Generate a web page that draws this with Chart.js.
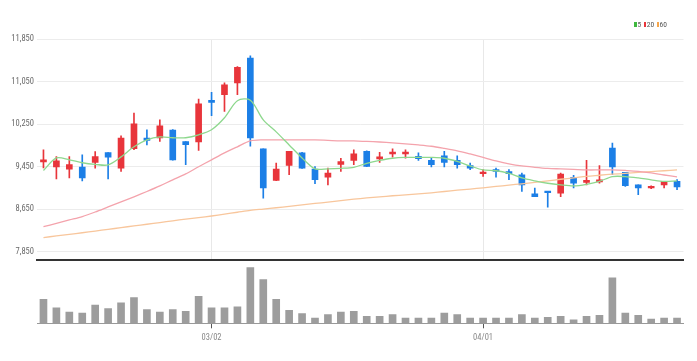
<!DOCTYPE html>
<html>
<head>
<meta charset="utf-8">
<script src="https://cdn.jsdelivr.net/npm/chart.js@4/dist/chart.umd.min.js"></script>
<style>
  html, body { margin: 0; padding: 0; background: #fff; }
  #wrap { position: relative; width: 697px; height: 361px; overflow: hidden; }
  #pbox { position: absolute; left: 0; top: 0; width: 697px; height: 268px; }
  #vbox { position: absolute; left: 0; top: 260px; width: 697px; height: 101px; }
  #legend { position: absolute; top: 20px; right: 30px; font: 7.5px 'Roboto Condensed', sans-serif; color: #555; white-space: nowrap; line-height: 9px; }
  #legend span.sw { display: inline-block; width: 2.5px; height: 5px; margin: 0 0.5px 0 2.5px; vertical-align: 0px; }
</style>
</head>
<body>
<div id="wrap">
  <div id="pbox"><canvas id="price"></canvas></div>
  <div id="vbox"><canvas id="vol"></canvas></div>
  <div id="legend"><span class="sw" style="background:#3fb83f;margin-left:0"></span>5<span class="sw" style="background:#e8353b"></span>20<span class="sw" style="background:#f5a54a"></span>60</div>
</div>
<script>
const categories = ['02/10','02/11','02/14','02/15','02/16','02/17','02/18','02/21','02/22','02/23',
  '02/24','02/25','02/28','03/02','03/03','03/04','03/07','03/08','03/10','03/11',
  '03/14','03/15','03/16','03/17','03/18','03/21','03/22','03/23','03/24','03/25',
  '03/28','03/29','03/30','03/31','04/01','04/04','04/05','04/06','04/07','04/08',
  '04/11','04/12','04/13','04/14','04/15','04/18','04/19','04/20','04/21','04/22'];

const openP  = [9540,9445,9405,9445,9530,9715,9425,9790,9990,9990,
  10140,9925,9915,10700,10805,11025,11490,9785,9195,9475,
  9710,9405,9255,9495,9570,9740,9595,9690,9690,9645,
  9570,9655,9570,9470,9320,9395,9360,9300,8940,8985,
  8955,9250,9155,9165,9800,9345,9110,9050,9110,9175];
const highP  = [9770,9640,9640,9675,9735,9715,10030,10460,10145,10330,
  10150,9925,10720,10850,11025,11330,11535,9785,9520,9740,
  9720,9455,9425,9610,9770,9750,9720,9785,9770,9710,
  9610,9740,9655,9520,9395,9425,9395,9330,9050,8985,
  9330,9290,9570,9470,9895,9345,9110,9090,9175,9210];
const lowP   = [9430,9220,9240,9185,9425,9220,9360,9770,9860,9925,
  9575,9490,9755,10410,10490,10805,9835,8860,9190,9300,
  9420,9130,9110,9360,9490,9450,9530,9630,9610,9570,
  9445,9445,9425,9395,9270,9255,9205,8985,8890,8690,
  8890,9050,9110,9140,9300,9080,8925,9040,9050,9020];
const closeP = [9580,9560,9490,9240,9640,9630,9990,10255,9945,10220,
  9580,9865,10630,10660,10990,11320,9990,9050,9405,9740,
  9425,9205,9330,9545,9695,9455,9635,9725,9725,9600,
  9490,9530,9490,9425,9345,9360,9320,9110,8890,8965,
  9310,9140,9195,9205,9445,9095,9050,9080,9175,9070];

const ma5  = [9380,9615,9580,9525,9495,9485,9635,9825,9955,10010,
  9995,9995,10050,10145,10370,10690,10700,10330,10105,9860,
  9615,9410,9410,9420,9440,9515,9570,9610,9625,9625,
  9625,9610,9550,9465,9390,9375,9325,9240,9185,9140,
  9110,9090,9120,9175,9265,9265,9240,9205,9175,9185];
const ma20 = [8325,8385,8450,8515,8600,8695,8790,8885,8985,9090,
  9205,9315,9450,9580,9710,9825,9935,9955,9955,9955,
  9955,9955,9945,9935,9935,9925,9915,9900,9880,9860,
  9835,9795,9750,9690,9625,9560,9505,9465,9440,9420,
  9410,9400,9390,9390,9390,9380,9365,9335,9295,9260];
const ma60 = [8120,8150,8180,8210,8240,8275,8305,8340,8370,8400,
  8435,8465,8495,8525,8560,8595,8630,8655,8680,8705,
  8735,8760,8785,8815,8840,8865,8885,8905,8920,8940,
  8960,8985,9010,9030,9055,9080,9105,9130,9155,9185,
  9215,9240,9270,9290,9310,9325,9345,9360,9375,9390];

const volume = [234,150,110,100,177,144,200,250,134,110,
  134,117,264,150,150,160,544,427,234,127,
  94,50,84,110,117,67,67,84,50,50,
  50,100,84,50,50,50,50,84,50,57,
  67,34,67,77,444,100,77,40,50,50];

const priceTicks = [7850, 8650, 9450, 10250, 11050, 11850];
const shownDates = ['03/02', '04/01'];

const UP = '#e8353b', DOWN = '#1c7fe6';
const FONT = "'Roboto Condensed', sans-serif";
const candleColors = openP.map((o, i) => closeP[i] >= o ? UP : DOWN);

const bodies = openP.map((o, i) => [o, closeP[i]]);
const wicks = lowP.map((l, i) => [l, highP[i]]);

new Chart(document.getElementById('price'), {
  type: 'bar',
  data: {
    labels: categories,
    datasets: [
      { type: 'line', label: '5', data: ma5, borderColor: '#8ed88e', borderWidth: 1.3, pointRadius: 0, tension: 0.3, order: 0 },
      { type: 'line', label: '20', data: ma20, borderColor: '#f4a3ac', borderWidth: 1.3, pointRadius: 0, tension: 0.3, order: 0 },
      { type: 'line', label: '60', data: ma60, borderColor: '#f8c69c', borderWidth: 1.3, pointRadius: 0, tension: 0.3, order: 0 },
      { label: 'body', data: bodies, backgroundColor: candleColors, barThickness: 6, minBarLength: 1.5, grouped: false, order: 1 },
      { label: 'wick', data: wicks, backgroundColor: candleColors, barThickness: 1, grouped: false, order: 2 }
    ]
  },
  options: {
    responsive: true, maintainAspectRatio: false, animation: false, devicePixelRatio: 1,
    layout: { padding: { top: 39, right: 13.5, bottom: 2, left: 0 } },
    plugins: { legend: { display: false }, tooltip: { enabled: false } },
    scales: {
      x: {
        type: 'category', offset: true,
        grid: { offset: false, drawTicks: false, color: ctx => shownDates.includes(categories[ctx.index]) ? '#e8e8e8' : 'rgba(0,0,0,0)' },
        ticks: { display: false },
        border: { color: '#333', width: 2 }
      },
      y: {
        min: 7700, max: 11850,
        afterBuildTicks: s => { s.ticks = priceTicks.map(v => ({ value: v })); },
        afterFit: s => { s.width = 37; },
        ticks: { callback: v => v.toLocaleString('en-US'), color: '#6a6a6a', font: { family: FONT, size: 8.5 }, padding: 3 },
        grid: { color: '#ececec', drawTicks: false },
        border: { display: false }
      }
    }
  }
});

new Chart(document.getElementById('vol'), {
  type: 'bar',
  data: {
    labels: categories,
    datasets: [{ label: 'volume', data: volume, backgroundColor: '#9d9d9d', barThickness: 7 }]
  },
  options: {
    responsive: true, maintainAspectRatio: false, animation: false, devicePixelRatio: 1,
    layout: { padding: { top: 0, right: 13.5, bottom: 14.5, left: 37 } },
    plugins: { legend: { display: false }, tooltip: { enabled: false } },
    scales: {
      x: {
        type: 'category', offset: true,
        grid: { offset: false, drawOnChartArea: false, drawTicks: true, tickLength: 5,
                tickColor: ctx => shownDates.includes(categories[ctx.index]) ? '#555' : 'rgba(0,0,0,0)' },
        ticks: { autoSkip: false, maxRotation: 0, color: '#888', font: { family: FONT, size: 8.5 }, padding: 4,
                 callback: (v, i) => shownDates.includes(categories[i]) ? categories[i] : '' },
        border: { color: '#999', width: 1 }
      },
      y: { display: false, min: 0, max: 617 }
    }
  }
});
</script>
</body>
</html>
